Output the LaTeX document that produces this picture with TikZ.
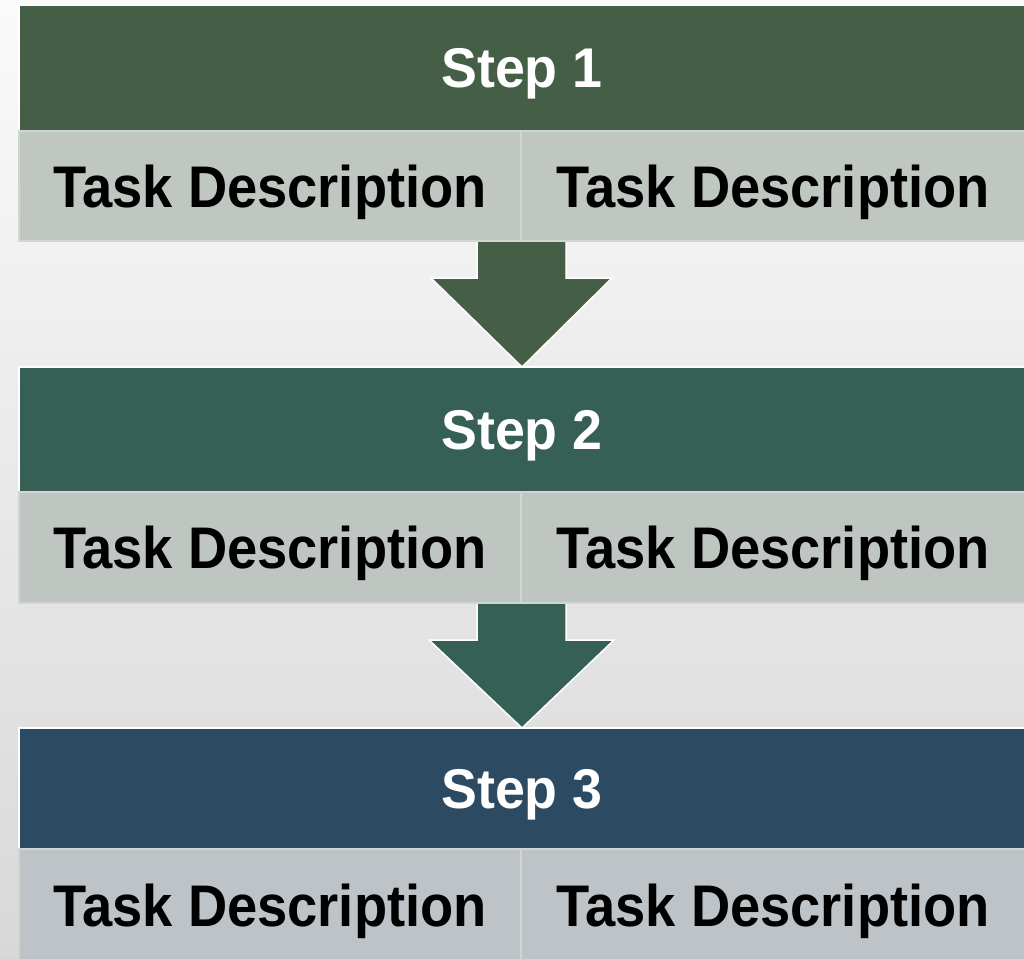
\documentclass[tikz,border=0pt]{standalone}
\usepackage{fontspec}
\setmainfont{Liberation Sans}
\usetikzlibrary{calc}
\definecolor{hA}{HTML}{445F45}
\definecolor{hB}{HTML}{365F55}
\definecolor{hC}{HTML}{2C4A62}
\definecolor{tA}{HTML}{C0C7C1}
\definecolor{tB}{HTML}{BFC6C2}
\definecolor{tC}{HTML}{BEC3C7}
\definecolor{tline}{HTML}{D2D6D2}
\definecolor{bgtop}{HTML}{FAFAFA}
\definecolor{bgbot}{HTML}{D8D8D8}
\pgfdeclarelayer{bglayer}
\pgfdeclarelayer{arrowlayer}
\pgfsetlayers{bglayer,arrowlayer,main}
\newcommand{\steptxt}[1]{\scalebox{0.96}[1]{#1}}
\newcommand{\tasktxt}[1]{\scalebox{0.925}[1]{#1}}
\begin{document}
\begin{tikzpicture}[x=1pt,y=-1pt,
  hdr/.style={draw=white, line width=1.2pt, anchor=north west, inner sep=0pt, outer sep=0pt,
    minimum width=1006pt, text=white, text depth=0pt,
    font=\fontsize{56}{60}\selectfont\bfseries},
  cell/.style={draw=tline, line width=1.2pt, anchor=north west, inner sep=0pt, outer sep=0pt,
    minimum height=110pt, text=black, text depth=0pt,
    font=\fontsize{58.7}{62}\selectfont\bfseries},
  arrowshape/.style={draw=white, line width=1.5pt, line join=miter}]
\useasboundingbox (0,0) rectangle (1024,958);
\begin{pgfonlayer}{bglayer}
\fill[top color=bgtop, bottom color=bgbot] (0,0) rectangle (1024,958);
\end{pgfonlayer}
% Step 1
\node[hdr, fill=hA, minimum height=126pt] (h1) at (19,5) {\steptxt{Step 1}};
\node[cell, fill=tA, minimum width=502pt] (t1L) at (19,131) {\tasktxt{Task Description}};
\node[cell, fill=tA, minimum width=504pt] (t1R) at (521,131) {\tasktxt{Task Description}};
% Step 2
\node[hdr, fill=hB, minimum height=125pt] (h2) at (19,367) {\steptxt{Step 2}};
\node[cell, fill=tB, minimum width=502pt, minimum height=111pt] (t2L) at (19,492) {\tasktxt{Task Description}};
\node[cell, fill=tB, minimum width=504pt, minimum height=111pt] (t2R) at (521,492) {\tasktxt{Task Description}};
% Step 3
\node[hdr, fill=hC, minimum height=121pt] (h3) at (19,728) {\steptxt{Step 3}};
\node[cell, fill=tC, minimum width=502pt, minimum height=112pt] (t3L) at (19,849) {\tasktxt{Task Description}};
\node[cell, fill=tC, minimum width=504pt, minimum height=112pt] (t3R) at (521,849) {\tasktxt{Task Description}};
% arrows
\begin{pgfonlayer}{arrowlayer}
\draw[arrowshape, fill=hA] ($(t1L.south east)+(-44,-2)$) -- ++(89,0) -- ++(0,39) -- ++(46,0)
  -- (h2.north) -- ($(t1L.south east)+(-90,37)$) -- ++(46,0) -- cycle;
\draw[arrowshape, fill=hB] ($(t2L.south east)+(-44,-2)$) -- ++(89,0) -- ++(0,39) -- ++(48,0)
  -- (h3.north) -- ($(t2L.south east)+(-92,37)$) -- ++(48,0) -- cycle;
\end{pgfonlayer}
\end{tikzpicture}
\end{document}
